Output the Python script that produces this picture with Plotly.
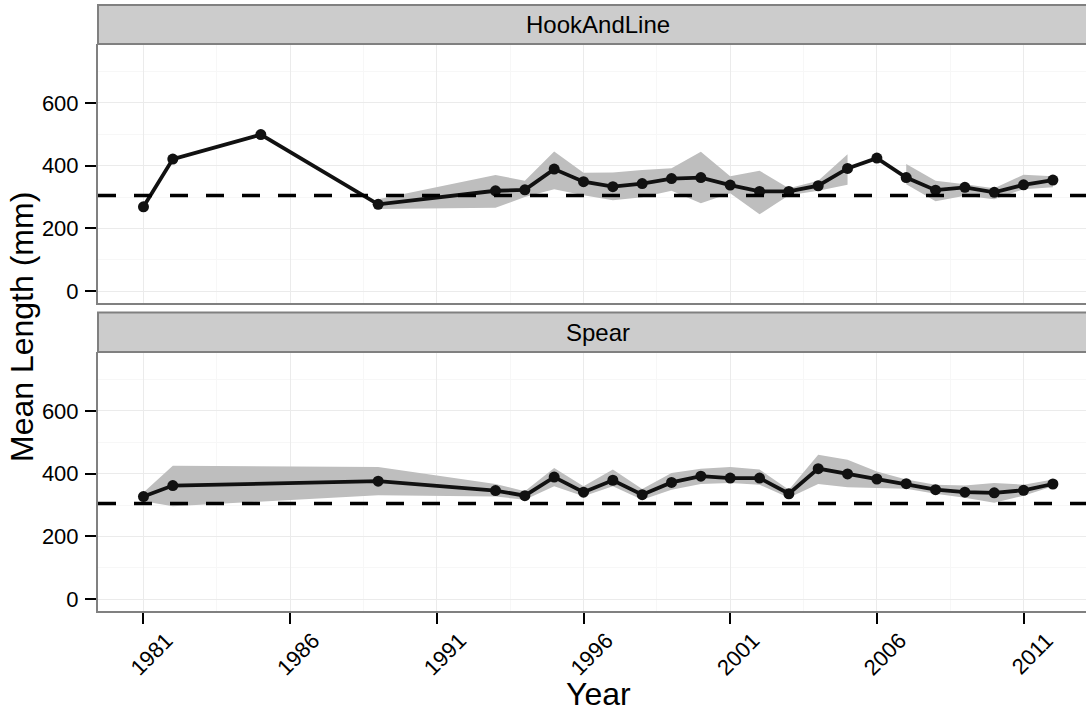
import plotly.graph_objects as go

# Mean length by year for each gear type, with lower/upper bounds (None = no bound)
years_hook = [1981, 1982, 1985, 1989, 1993, 1994, 1995, 1996, 1997, 1998, 1999, 2000,
              2001, 2002, 2003, 2004, 2005, 2006, 2007, 2008, 2009, 2010, 2011, 2012]
mean_hook = [269, 421, 499, 277, 320, 323, 389, 349, 333, 343, 359, 362,
             338, 318, 318, 336, 391, 424, 362, 322, 331, 315, 339, 354]
lower_hook = [None, None, None, 262, 266, 300, 325, 306, 290, 299, 320, 280,
              312, 245, 306, 320, 339, None, 341, 287, 304, 293, 325, 331]
upper_hook = [None, None, None, 293, 370, 352, 445, 377, 378, 386, 392, 444,
              366, 384, 328, 352, 436, None, 405, 352, 341, 328, 371, 366]

years_spear = [1981, 1982, 1989, 1993, 1994, 1995, 1996, 1997, 1998, 1999, 2000, 2001,
               2002, 2003, 2004, 2005, 2006, 2007, 2008, 2009, 2010, 2011, 2012]
mean_spear = [327, 362, 376, 346, 330, 389, 341, 379, 333, 372, 392, 386,
              386, 336, 416, 399, 383, 368, 349, 341, 339, 347, 367]
lower_spear = [312, 296, 331, 327, 317, 360, 328, 360, 317, 349, 367, 370,
               365, 323, 367, 357, 354, 352, 336, 323, 307, 330, 360]
upper_spear = [340, 425, 421, 367, 344, 418, 360, 413, 351, 402, 416, 421,
               413, 349, 460, 444, 407, 381, 365, 362, 370, 365, 381]

panel_names = ["HookAndLine", "Spear"]
reference_length = 305
y_ticks = [0, 200, 400, 600]
x_ticks = [1981, 1986, 1991, 1996, 2001, 2006, 2011]

W, H = 1086, 715
M_L, M_R, M_T, M_B = 98, 0, 44, 104
plot_h = H - M_T - M_B
px_x = W - M_L - M_R


def py(pix):
    """Convert a pixel row (from top) to paper y."""
    return (H - M_B - pix) / plot_h


def px(pix):
    return (pix - M_L) / px_x


top_dom = [py(303), 1.0]
bot_dom = [0.0, py(352)]

BAND = "#BEBEBE"
INK = "#111111"
FRAME = "#808080"
GRID = "#EBEBEB"
MINOR = "#F7F7F7"
FONT = "Liberation Sans, Arial, sans-serif"

fig = go.Figure()


def add_panel(years, mean, lower, upper, xa, ya):
    # ribbon: one polygon per contiguous run of bounds
    seg = []
    runs = []
    for yr, lo, hi in zip(years, lower, upper):
        if lo is None or hi is None:
            if seg:
                runs.append(seg)
            seg = []
        else:
            seg.append((yr, lo, hi))
    if seg:
        runs.append(seg)
    for run in runs:
        xs = [r[0] for r in run] + [r[0] for r in reversed(run)]
        ys = [r[2] for r in run] + [r[1] for r in reversed(run)]
        fig.add_trace(go.Scatter(x=xs, y=ys, fill="toself", fillcolor=BAND,
                                 line=dict(width=0), mode="lines", hoverinfo="skip",
                                 showlegend=False, xaxis=xa, yaxis=ya))
    fig.add_trace(go.Scatter(x=years, y=mean, mode="lines+markers",
                             line=dict(color=INK, width=3.8),
                             marker=dict(color=INK, size=11),
                             showlegend=False, xaxis=xa, yaxis=ya))


add_panel(years_hook, mean_hook, lower_hook, upper_hook, "x", "y")
add_panel(years_spear, mean_spear, lower_spear, upper_spear, "x2", "y2")

x_range = [1979.45, 1981 + (W - 144) / 29.32]
y_range = [-37.5, 787.5]

common_x = dict(range=x_range, tick0=1981, dtick=5, showgrid=True, gridcolor=GRID,
                gridwidth=1, zeroline=False, showline=True, linecolor=FRAME, linewidth=2,
                minor=dict(tick0=1981, dtick=2.5, showgrid=True, gridcolor=MINOR, gridwidth=1))
common_y = dict(range=y_range, tickvals=y_ticks, showgrid=True, gridcolor=GRID, gridwidth=1,
                zeroline=False, showline=True, linecolor=FRAME, linewidth=2,
                ticks="outside", ticklen=11, tickwidth=2, tickcolor="black",
                ticklabelstandoff=2,
                tickfont=dict(family=FONT, size=22, color="black"),
                minor=dict(tickvals=[100, 300, 500, 700], showgrid=True, gridcolor=MINOR,
                           gridwidth=1))

fig.update_layout(
    width=W, height=H,
    margin=dict(l=M_L, r=M_R, t=M_T, b=M_B),
    paper_bgcolor="white", plot_bgcolor="white",
    font=dict(family=FONT, color="black"),
    xaxis=dict(common_x, domain=[0, 1], anchor="y", showticklabels=False, ticks=""),
    yaxis=dict(common_y, domain=top_dom, anchor="x"),
    xaxis2=dict(common_x, domain=[0, 1], anchor="y2", matches="x",
                tickvals=x_ticks, ticks="outside", ticklen=11, tickwidth=2,
                tickcolor="black", tickangle=-45, ticklabelshift=23,
                ticklabelstandoff=-5,
                tickfont=dict(family=FONT, size=22, color="black")),
    yaxis2=dict(common_y, domain=bot_dom, anchor="x2"),
)

# reference length line in each panel
for ya in ["y", "y2"]:
    xa = "x" if ya == "y" else "x2"
    fig.add_shape(type="line", xref=f"{xa} domain", yref=ya, x0=0, x1=1,
                  y0=reference_length, y1=reference_length,
                  line=dict(color="black", width=3.5, dash="18px,18px"))

# facet strips
strip_rows = [(5, 44), (312.5, 352)]
for name, (top, bottom) in zip(panel_names, strip_rows):
    fig.add_shape(type="rect", xref="paper", yref="paper", x0=0, x1=1.01,
                  y0=py(bottom), y1=py(top), fillcolor="#CCCCCC",
                  line=dict(color=FRAME, width=2), layer="above")
    fig.add_annotation(text=name, xref="paper", yref="paper", x=px(598),
                       y=py((top + bottom) / 2), showarrow=False,
                       xanchor="center", yanchor="middle",
                       font=dict(family=FONT, size=24, color="black"))

# axis titles
fig.add_annotation(text="Mean Length (mm)", xref="paper", yref="paper",
                   x=px(22), y=py(327), textangle=-90, showarrow=False,
                   xanchor="center", yanchor="middle",
                   font=dict(family=FONT, size=32, color="black"))
fig.add_annotation(text="Year", xref="paper", yref="paper",
                   x=px(598), y=py(694), showarrow=False,
                   xanchor="center", yanchor="middle",
                   font=dict(family=FONT, size=32, color="black"))

fig.write_html("out.html")
